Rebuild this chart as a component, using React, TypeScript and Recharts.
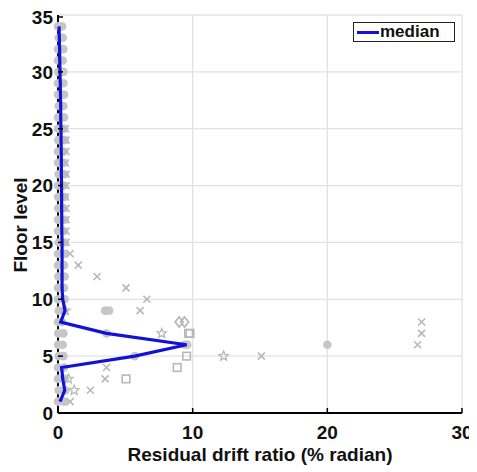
import React from 'react';
import { ScatterChart, Scatter, XAxis, YAxis, CartesianGrid, Legend } from 'recharts';

const floors = [1, 2, 3, 4, 5, 6, 7, 8, 9, 10, 11, 12, 13, 14, 15, 16, 17, 18, 19, 20, 21, 22, 23, 24, 25, 26, 27, 28, 29, 30, 31, 32, 33, 34];
const medianDrift = [0.15, 0.5, 0.35, 0.27, 5.7, 9.55, 3.6, 0.2, 0.52, 0.35, 0.3, 0.3, 0.3, 0.3, 0.3, 0.28, 0.28, 0.27, 0.27, 0.26, 0.25, 0.25, 0.24, 0.23, 0.22, 0.2, 0.2, 0.18, 0.17, 0.15, 0.13, 0.12, 0.1, 0.08];
const clusterLeft = [0.0, 0.05, 0.0, 0.0, 0.05, 0.0, 0.02, 0.0, 0.05, 0.0, 0.0, 0.02, 0.0, 0.0, 0.05, 0.0, 0.0, 0.02, 0.0, 0.0, 0.05, 0.0, 0.0, 0.02, 0.0, 0.0, 0.05, 0.0, 0.0, 0.02, 0.0, 0.0, 0.05, 0.0];
const clusterRight = [0.45, 0.55, 0.5, 0.45, 0.4, 0.35, 0.4, 0.3, 0.45, 0.5, 0.45, 0.5, 0.45, 0.5, 0.5, 0.45, 0.5, 0.45, 0.5, 0.45, 0.5, 0.45, 0.45, 0.5, 0.45, 0.45, 0.4, 0.45, 0.4, 0.4, 0.35, 0.4, 0.35, 0.3];

const crossX = [0.9, 2.4, 3.5, 3.6, 15.1, 26.7, 27.0, 27.0, 6.1, 6.6, 5.05, 2.9, 1.5, 0.9, 0.6, 0.6, 0.6, 0.6, 0.55, 0.6, 0.6, 0.55, 0.6, 0.6, 0.55];
const crossFloor = [1, 2, 3, 4, 5, 6, 7, 8, 9, 10, 11, 12, 13, 14, 15, 16, 17, 18, 19, 20, 21, 22, 23, 24, 25];
const squareX = [5.05, 8.85, 9.55, 9.8, 9.7];
const squareFloor = [3, 4, 5, 7, 7];
const starX = [0.77, 1.2, 12.3, 7.7, 0.55];
const starFloor = [3, 2, 5, 7, 9];
const dotX = [5.7, 9.4, 20.0, 3.6, 3.5, 3.8, 9.6];
const dotFloor = [5, 6, 6, 7, 9, 9, 6];
const diamondX = [9.0, 9.4];
const diamondFloor = [8, 8];

const xTicks = [0, 10, 20, 30];
const yTicks = [0, 5, 10, 15, 20, 25, 30, 35];

const zip = (xs: number[], ys: number[]) => xs.map((x, i) => ({ x, y: ys[i] }));
const medianData = zip(medianDrift, floors);
const leftData = zip(clusterLeft, floors);
const rightData = zip(clusterRight, floors);
const crossData = zip(crossX, crossFloor);
const squareData = zip(squareX, squareFloor);
const starData = zip(starX, starFloor);
const dotData = zip(dotX, dotFloor);
const diamondData = zip(diamondX, diamondFloor);

const GREY = '#c6c6ca';
const FONT = 'Liberation Sans, Arial, sans-serif';
const FS = 19;

const Dot = (p: any) => <circle cx={p.cx} cy={p.cy} r={4.3} fill={GREY} />;
const Cross = (p: any) => {
  const s = 3.5;
  return (
    <path
      d={`M${p.cx - s},${p.cy - s}L${p.cx + s},${p.cy + s}M${p.cx - s},${p.cy + s}L${p.cx + s},${p.cy - s}`}
      stroke="#b8b8bc"
      strokeWidth={1.6}
      fill="none"
    />
  );
};
const Square = (p: any) => (
  <rect x={p.cx - 3.8} y={p.cy - 3.8} width={7.6} height={7.6} stroke="#b8b8bc" strokeWidth={1.6} fill="none" />
);
const Diamond = (p: any) => (
  <path
    d={`M${p.cx},${p.cy - 5}L${p.cx + 4},${p.cy}L${p.cx},${p.cy + 5}L${p.cx - 4},${p.cy}Z`}
    stroke="#b8b8bc"
    strokeWidth={1.8}
    fill="none"
  />
);
const Star = (p: any) => {
  const pts: string[] = [];
  for (let i = 0; i < 10; i++) {
    const r = i % 2 === 0 ? 5 : 2.2;
    const a = -Math.PI / 2 + (i * Math.PI) / 5;
    pts.push(`${p.cx + r * Math.cos(a)},${p.cy + r * Math.sin(a)}`);
  }
  return <polygon points={pts.join(' ')} stroke="#b8b8bc" strokeWidth={1.3} fill="none" />;
};
const NoShape = () => <g />;

const BottomTick = (p: any) => (
  <g>
    <line x1={p.x} x2={p.x} y1={p.y} y2={p.y - 5} stroke="#000" strokeWidth={1.5} />
    <text x={p.x} y={p.y + 26} textAnchor="middle" fontFamily={FONT} fontWeight="bold" fontSize={FS} fill="#111">
      {p.payload.value}
    </text>
  </g>
);
const TopTick = (p: any) => <line x1={p.x} x2={p.x} y1={p.y} y2={p.y + 5} stroke="#000" strokeWidth={1.5} />;
const LeftTick = (p: any) => (
  <g>
    <line x1={p.x} x2={p.x + 5} y1={p.y} y2={p.y} stroke="#000" strokeWidth={1.5} />
    <text x={p.x - 5} y={p.y} dy="0.36em" textAnchor="end" fontFamily={FONT} fontWeight="bold" fontSize={FS} fill="#111">
      {p.payload.value}
    </text>
  </g>
);
const RightTick = (p: any) => <line x1={p.x} x2={p.x - 5} y1={p.y} y2={p.y} stroke="#000" strokeWidth={1.5} />;

const XTitle = (p: any) => {
  const vb = p.viewBox || { x: 50, width: 404 };
  return (
    <text x={vb.x + vb.width / 2} y={453} textAnchor="middle" fontFamily={FONT} fontWeight="bold" fontSize={FS} fill="#111">
      Residual drift ratio (% radian)
    </text>
  );
};
const YTitle = () => (
  <text x={12} y={217} transform="rotate(-90, 12, 217)" dy="0.36em" textAnchor="middle" fontFamily={FONT} fontWeight="bold" fontSize={FS} fill="#111">
    Floor level
  </text>
);

const LegendBox = () => (
  <div
    style={{
      border: '1.5px solid #222',
      background: '#fff',
      width: 100,
      height: 18,
      display: 'flex',
      alignItems: 'center',
      boxSizing: 'content-box',
      fontFamily: FONT,
      fontWeight: 'bold',
      fontSize: 17,
      color: '#111',
    }}
  >
    <span style={{ display: 'inline-block', width: 22, height: 3, background: '#1212d6', marginLeft: 3 }} />
    <span style={{ marginLeft: 1 }}>median</span>
  </div>
);

export default function App() {
  return (
    <ScatterChart width={469} height={464} margin={{ top: 7, right: 15, bottom: 14, left: 0 }}>
      <CartesianGrid stroke="#e2e2e2" strokeWidth={1.3} />
      <XAxis
        type="number"
        dataKey="x"
        domain={[0, 30]}
        ticks={xTicks}
        height={45}
        tickSize={0}
        tickMargin={0}
        tickLine={false}
        axisLine={{ stroke: '#000', strokeWidth: 2 }}
        tick={<BottomTick />}
        label={<XTitle />}
      />
      <XAxis
        xAxisId="top"
        orientation="top"
        type="number"
        domain={[0, 30]}
        ticks={xTicks}
        height={0}
        tickSize={0}
        tickMargin={0}
        tickLine={false}
        axisLine={{ stroke: '#000', strokeWidth: 2 }}
        tick={<TopTick />}
      />
      <YAxis
        type="number"
        dataKey="y"
        domain={[0, 35]}
        ticks={yTicks}
        width={50}
        tickSize={0}
        tickMargin={0}
        tickLine={false}
        axisLine={{ stroke: '#000', strokeWidth: 2 }}
        tick={<LeftTick />}
        label={<YTitle />}
      />
      <YAxis
        yAxisId="right"
        orientation="right"
        type="number"
        domain={[0, 35]}
        ticks={yTicks}
        width={0}
        tickSize={0}
        tickMargin={0}
        tickLine={false}
        axisLine={{ stroke: '#000', strokeWidth: 2 }}
        tick={<RightTick />}
      />
      <Scatter name="clusterLeft" data={leftData} shape={<Dot />} isAnimationActive={false} legendType="none" />
      <Scatter name="clusterRight" data={rightData} shape={<Dot />} isAnimationActive={false} legendType="none" />
      <Scatter name="cross" data={crossData} shape={<Cross />} isAnimationActive={false} legendType="none" />
      <Scatter name="square" data={squareData} shape={<Square />} isAnimationActive={false} legendType="none" />
      <Scatter name="star" data={starData} shape={<Star />} isAnimationActive={false} legendType="none" />
      <Scatter name="dot" data={dotData} shape={<Dot />} isAnimationActive={false} legendType="none" />
      <Scatter name="diamond" data={diamondData} shape={<Diamond />} isAnimationActive={false} legendType="none" />
      <Scatter
        name="median"
        data={medianData}
        fill="#1212d6"
        line={{ stroke: '#1212d6', strokeWidth: 3.2 }}
        shape={<NoShape />}
        isAnimationActive={false}
      />
      <Legend
        layout="horizontal"
        verticalAlign="middle"
        align="center"
        wrapperStyle={{ top: 14, left: 345, width: 'auto' }}
        content={<LegendBox />}
      />
    </ScatterChart>
  );
}
